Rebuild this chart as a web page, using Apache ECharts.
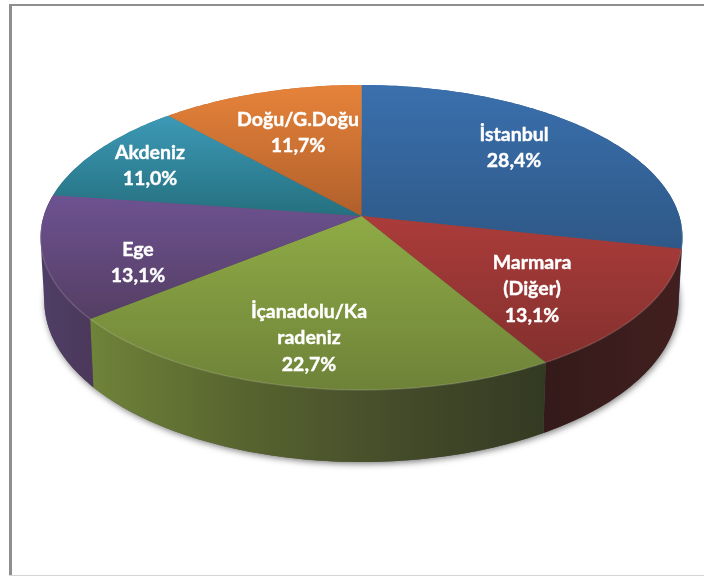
<!DOCTYPE html>
<html><head><meta charset="utf-8">
<style>html,body{margin:0;padding:0;background:#fff}#c{width:704px;height:576px}</style>
<script src="https://cdn.jsdelivr.net/npm/echarts@6/dist/echarts.min.js"></script>
</head><body><div id="c"></div>
<script>
const categories = ['İstanbul', 'Marmara\n(Diğer)', 'İçanadolu/Ka\nradeniz', 'Ege', 'Akdeniz', 'Doğu/G.Doğu'];
const values = [28.4, 13.1, 22.7, 13.1, 11.0, 11.7];
const topColors = [['#3a70ad','#2e5887'],['#ab3c3a','#83302e'],['#8fab46','#6e8238'],['#6d5291','#553e64'],['#3c99b6','#25707f'],['#e6833a','#b05f2b']];
const wallColors = [['#3f6a9c','#2a4d78'],['#341a1a','#421f1f'],['#6f8339','#58642f','#454c2a','#333a22'],['#4f3e66','#4b385a'],['#2c7a90','#2c7a90'],['#b5622c','#b5622c']];
const labelCenters = [[514,148],[532,289],[309,338],[138,263],[150,166],[298,133]];

// Projection of the tilted disc
const CX = 361.5, RX = 317.8, PC = -0.141, PA = 119, PB = 216;
function rim(deg){
  const t = deg*Math.PI/180, u = Math.sin(t), v = -Math.cos(t), d = 1 + PC*v;
  return [CX + RX*u/d, (PA*v + PB)/d, v];
}
function low(deg){
  const p = rim(deg);
  return [CX + (p[0]-CX)*0.988, p[1] + 62 + 10*p[2]];
}
function arc(a,b,f){ const out=[]; const n=Math.max(2,Math.ceil(b-a)); for(let i=0;i<=n;i++) out.push(f(a+(b-a)*i/n)); return out; }
function hull(pts){
  const s = pts.map(p=>[p[0],p[1]]).sort((a,b)=>a[0]-b[0]||a[1]-b[1]);
  const cross=(o,a,b)=>(a[0]-o[0])*(b[1]-o[1])-(a[1]-o[1])*(b[0]-o[0]);
  const lo=[],up=[];
  for(const p of s){ while(lo.length>1&&cross(lo[lo.length-2],lo[lo.length-1],p)<=0) lo.pop(); lo.push(p); }
  for(const p of s.slice().reverse()){ while(up.length>1&&cross(up[up.length-2],up[up.length-1],p)<=0) up.pop(); up.push(p); }
  return lo.slice(0,-1).concat(up.slice(0,-1));
}
const total = values.reduce((s,x)=>s+x,0);
const starts = []; values.reduce((s,x,i)=>{starts[i]=s;return s+x;},0);
const grad = (c,horizontal)=>{
  const stops = c.map((col,i)=>({offset:i/(c.length-1),color:col}));
  return new echarts.graphic.LinearGradient(0,0,horizontal?1:0,horizontal?0:1,stops);
};

const chart = echarts.init(document.getElementById('c'),null,{renderer:'canvas'});
chart.setOption({
  animation:false,
  backgroundColor:'#ffffff',
  graphic:[
    {type:'rect',silent:true,z:-1,shape:{x:9,y:4,width:3,height:572},style:{fill:'#8e8e8e'}},
    {type:'rect',silent:true,z:-1,shape:{x:9,y:4,width:695,height:2},style:{fill:'#8e8e8e'}},
    {type:'rect',silent:true,z:-1,shape:{x:9,y:575,width:695,height:1},style:{fill:'#d4d4d4'}}
  ],
  series:[{
    type:'custom',
    coordinateSystem:'none',
    data:values.map((v,i)=>({name:categories[i],value:v})),
    renderItem(params,api){
      const i = params.dataIndex, val = api.value(0);
      const a0 = starts[i]/total*360, a1 = (starts[i]+val)/total*360;
      const top = arc(a0,a1,rim).map(p=>[p[0],p[1]]);
      const bottom = arc(a0,a1,low);
      const kids = [];
      if(i===0){
        kids.push({type:'polygon',z2:0,shape:{points:arc(0,360,low)},
          style:{fill:'#555',shadowBlur:6,shadowOffsetY:2,shadowOffsetX:1,shadowColor:'rgba(0,0,0,0.5)'}});
      }
      kids.push({type:'polygon',z2:2,shape:{points:hull(top.concat(bottom))},style:{fill:grad(wallColors[i],true)}});
      kids.push({type:'polygon',z2:10,shape:{points:[[CX,PB]].concat(top)},style:{fill:grad(topColors[i],false)}});
      const front = arc(a0,a1,rim).filter(p=>p[2]>0.05).map(p=>[p[0],p[1]]);
      if(front.length>1) kids.push({type:'polyline',z2:11,shape:{points:front},
        style:{fill:null,stroke:'rgba(255,255,255,0.14)',lineWidth:1.5}});
      kids.push({type:'text',z2:20,x:labelCenters[i][0],y:labelCenters[i][1],style:{
        text:categories[i]+'\n'+val.toFixed(1).replace('.',',')+'%',
        fill:'#fff',font:'700 19.5px Lato, "Open Sans", sans-serif',lineHeight:26.3,align:'center',verticalAlign:'middle',
        stroke:'#fff',lineWidth:0.4}});
      return {type:'group',children:kids};
    }
  }]
});
</script></body></html>
